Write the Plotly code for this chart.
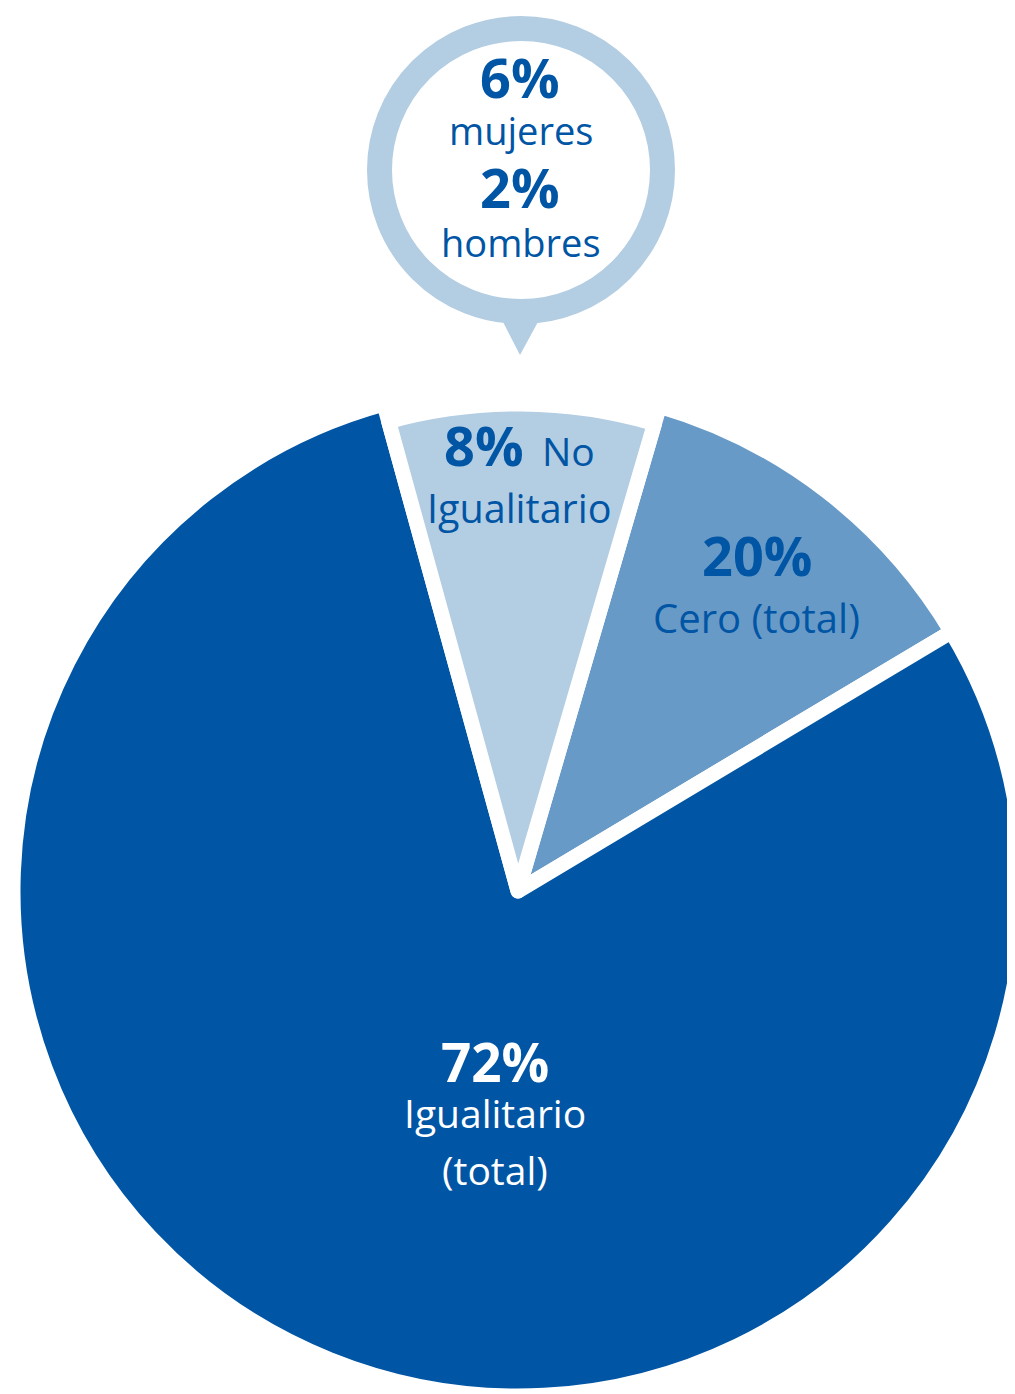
import plotly.graph_objects as go

# ---- data ----
categories = ["No Igualitario", "Cero (total)", "Igualitario (total)"]
label_pct = [8, 20, 72]                 # percentages printed on the chart
drawn_share = [8.8, 11.9, 79.3]         # slice sizes as drawn in the picture
bubble_pct = [6, 2]
bubble_groups = ["mujeres", "hombres"]

# ---- style ----
W, H = 1015, 1394
OFF = 8  # page body margin
DARK = "#0055a4"
MED = "#689ac8"
LIGHT = "#b3cde3"
CLEAR = "rgba(0,0,0,0)"
FONT = "Open Sans"
BOLD_FS = 54
REG_FS = 39
GAP = 15
ROT = -15.4


def fx(px):
    return (px - OFF) / W


def fy(py):
    return 1 - (py - OFF) / H


def dom(c_x, c_y, r):
    return dict(x=[fx(c_x - r), fx(c_x + r)], y=[fy(c_y + r), fy(c_y - r)])


cx, cy = 518, 891
r_main, r_light = 505, 487

fig = go.Figure()
fig.add_trace(go.Pie(
    labels=categories, values=drawn_share, sort=False, direction="clockwise",
    rotation=ROT, textinfo="none", hoverinfo="skip", showlegend=False,
    marker=dict(colors=[CLEAR, MED, DARK], line=dict(color="white", width=GAP)),
    domain=dom(cx, cy, r_main),
))
fig.add_trace(go.Pie(
    labels=categories, values=drawn_share, sort=False, direction="clockwise",
    rotation=ROT, textinfo="none", hoverinfo="skip", showlegend=False,
    marker=dict(colors=[LIGHT, CLEAR, CLEAR], line=dict(color="white", width=[GAP, 0, 0])),
    domain=dom(cx, cy, r_light),
))

annotations = []


def ann(text, x, baseline, fs, color, bold=False):
    t = f"<b>{text}</b>" if bold else text
    annotations.append(dict(
        text=t, x=fx(x), y=fy(baseline - 0.388 * fs), xref="paper", yref="paper",
        xanchor="center", yanchor="middle", showarrow=False,
        font=dict(family=FONT, size=fs, color=color),
    ))


# bubble texts
ann(f"{bubble_pct[0]}%", 520, 98, BOLD_FS, DARK, True)
ann(bubble_groups[0], 520.5, 145, REG_FS - 1, DARK)
ann(f"{bubble_pct[1]}%", 520, 208, BOLD_FS, DARK, True)
ann(bubble_groups[1], 521, 257, REG_FS - 1, DARK)

# slice labels
ann(f"{label_pct[0]}%", 483.5, 466, BOLD_FS, DARK, True)
ann("No", 568, 466, REG_FS, DARK)
ann("Igualitario", 519, 523, REG_FS + 0.5, DARK)
ann(f"{label_pct[1]}%", 756.5, 576, BOLD_FS, DARK, True)
ann("Cero (total)", 756.5, 633, REG_FS + 1, DARK)
ann(f"{label_pct[2]}%", 494.5, 1082, BOLD_FS - 1, "white", True)
ann("Igualitario", 495, 1128, REG_FS, "white")
ann("(total)", 495, 1185, REG_FS, "white")

# speech bubble
bx, by, br, ring = 521, 170, 141.5, 25
tri = [(502, 320), (539, 320), (520, 355)]
tri_path = "M " + " L ".join(f"{fx(x)},{fy(y)}" for x, y in tri) + " Z"
shapes = [
    dict(type="path", path=tri_path, xref="paper", yref="paper",
         fillcolor=LIGHT, line=dict(width=0)),
    dict(type="circle", xref="paper", yref="paper",
         x0=fx(bx - br), x1=fx(bx + br), y0=fy(by + br), y1=fy(by - br),
         fillcolor="white", line=dict(color=LIGHT, width=ring)),
]

fig.update_layout(
    width=W, height=H, margin=dict(l=0, r=0, t=0, b=0),
    paper_bgcolor="white", plot_bgcolor="white",
    annotations=annotations, shapes=shapes,
)
fig.write_html("out.html", config={"displayModeBar": False})
